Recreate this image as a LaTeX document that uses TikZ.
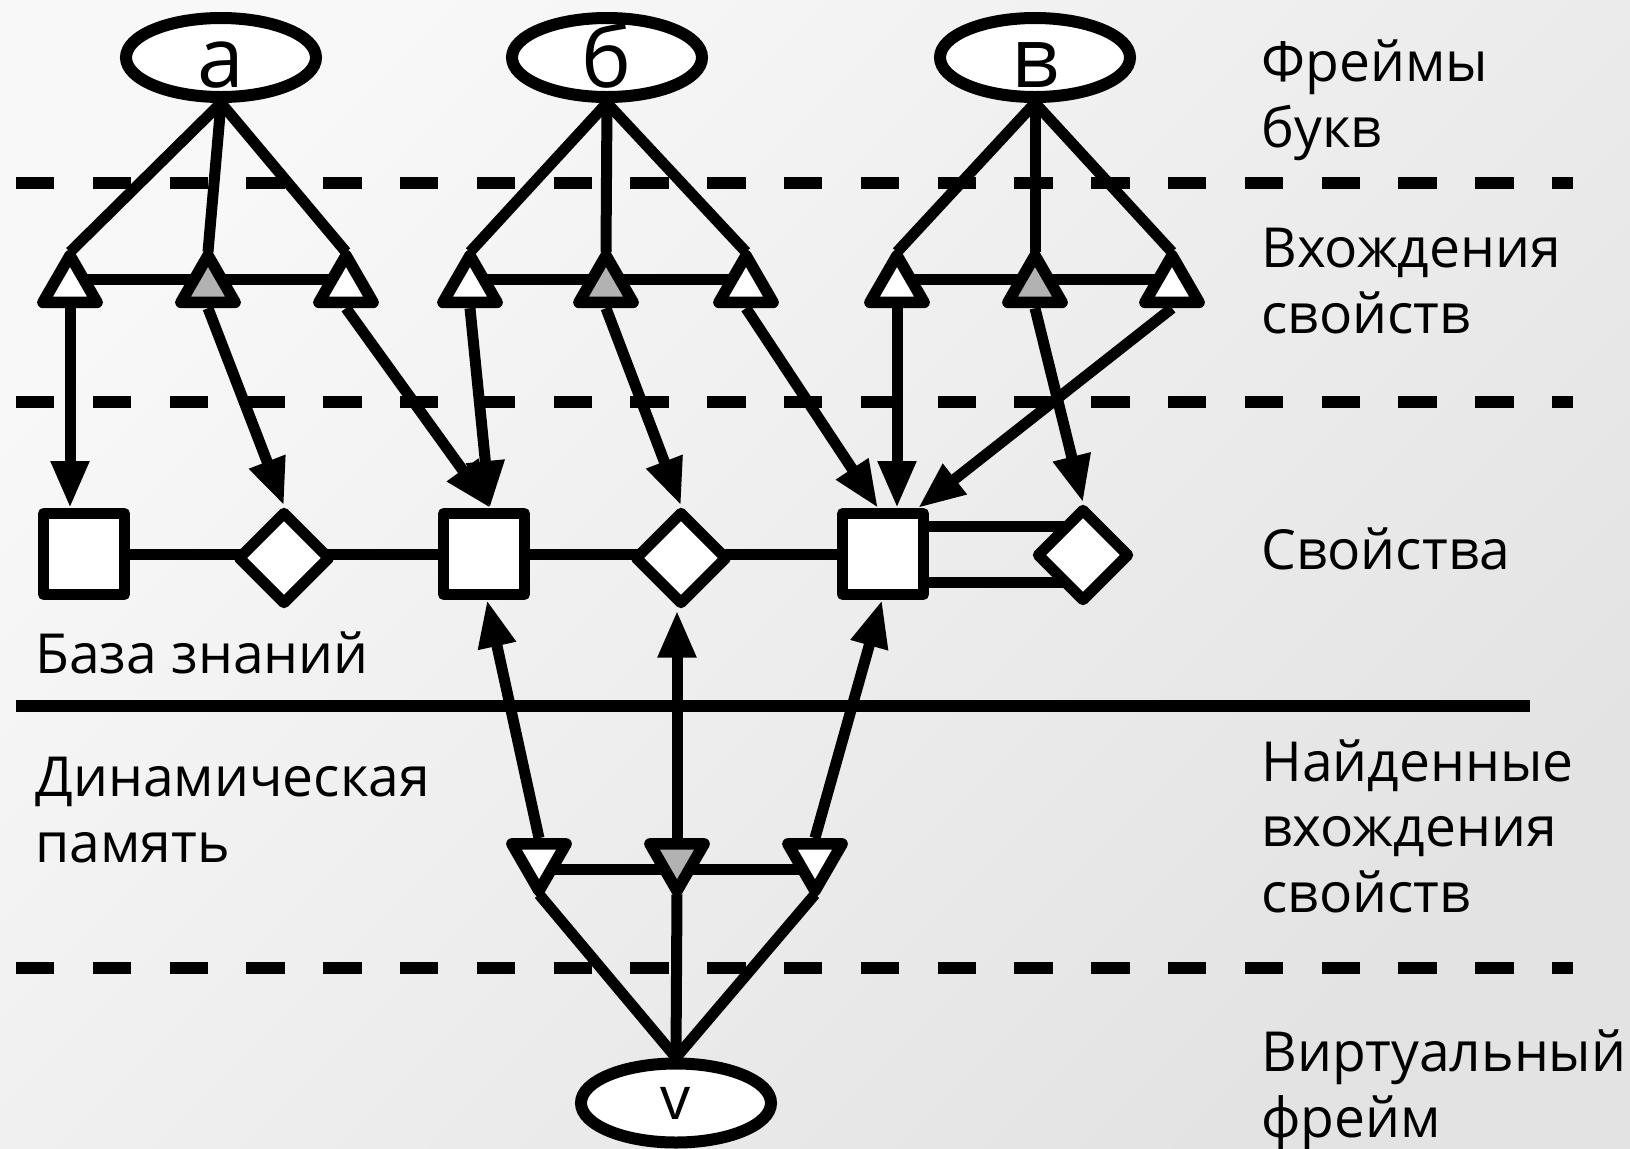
\documentclass[tikz,border=0pt]{standalone}
\usepackage{fontspec}
\setmainfont{Open Sans}
\usetikzlibrary{shapes.geometric,arrows.meta}
\definecolor{midgray}{RGB}{178,178,178}
\definecolor{bgA}{RGB}{248,248,248}
\definecolor{bgB}{RGB}{227,227,227}
\pgfdeclarelayer{bgl}
\pgfdeclarelayer{edges}
\pgfsetlayers{bgl,edges,main}
\newcommand{\lowletter}[1]{\raisebox{-15pt}[0pt][0pt]{#1}}
\tikzset{
  frame/.style={ellipse, draw, fill=white, line width=6pt, minimum width=95pt,
    minimum height=39.5pt, inner sep=0pt,
    font=\fontsize{42pt}{50pt}\selectfont},
  vframe/.style={ellipse, draw, fill=white, line width=6pt, minimum width=95pt,
    minimum height=39.5pt, inner sep=0pt, font=\fontsize{30pt}{36pt}\selectfont},
  occ/.style={regular polygon, regular polygon sides=3, draw, fill=white,
    line width=5.75pt, line join=round, minimum size=31.3pt, inner sep=0pt},
  occg/.style={occ, fill=midgray},
  prop/.style={rectangle, draw, fill=white, line width=5.5pt, line join=round,
    minimum size=40.5pt, inner sep=0pt},
  propd/.style={diamond, draw, fill=white, line width=5.5pt, line join=round,
    minimum width=47pt, minimum height=47pt, inner sep=0pt},
  conn/.style={line width=5.5pt, line join=round},
  arr/.style={conn, -{Triangle[length=23.5pt,width=18pt]}},
  sep/.style={line width=5.75pt, dash pattern=on 19.2pt off 19.2pt},
  lbl/.style={anchor=base west, inner sep=0pt, align=left,
    font=\fontsize{27.6pt}{32.75pt}\selectfont}
}
\begin{document}
\begin{tikzpicture}[x=0.5pt,y=-0.5pt]
\begin{pgfonlayer}{bgl}
  \shade[top color=bgA, bottom color=bgB, shading angle=45] (0,0) rectangle (1630,1148);
\end{pgfonlayer}
\useasboundingbox (0,0) rectangle (1630,1148);

% separators
\draw[sep] (16,183) -- (1573,183);
\draw[sep] (16,402) -- (1573,402);
\draw[sep] (16,968) -- (1573,968);
\draw[line width=6pt] (16,706) -- (1530,706);

% letter frames
\node[frame] (ea) at (221,57.5) {\lowletter{а}};
\node[frame] (eb) at (607,57.5) {\lowletter{б}};
\node[frame] (ec) at (1035,57.5) {\lowletter{в}};

% property occurrences
\node[occ]  (ta1) at (70,286.8) {};
\node[occg] (ta2) at (208,286.8) {};
\node[occ]  (ta3) at (346,286.8) {};
\node[occ]  (tb1) at (470,286.8) {};
\node[occg] (tb2) at (606,286.8) {};
\node[occ]  (tb3) at (746,286.8) {};
\node[occ]  (tc1) at (897,286.8) {};
\node[occg] (tc2) at (1035,286.8) {};
\node[occ]  (tc3) at (1172,286.8) {};

% properties
\node[prop]  (sq1) at (84,554) {};
\node[propd] (dm1) at (284,558) {};
\node[prop]  (sq2) at (484,554) {};
\node[propd] (dm2) at (681,558) {};
\node[prop]  (sq3) at (883,554) {};
\node[propd] (dm3) at (1083,555) {};

% found occurrences
\node[occ,  shape border rotate=180] (bt1) at (539,859.5) {};
\node[occg, shape border rotate=180] (bt2) at (677,859.5) {};
\node[occ,  shape border rotate=180] (bt3) at (815,859.5) {};

% virtual frame
\node[vframe] (ev) at (676,1103) {v};

\begin{pgfonlayer}{edges}
  % frames to occurrences
  \foreach \e/\g in {ea/ta, eb/tb, ec/tc} {
    \draw[conn] (\e.south) -- ([yshift=-4pt]\g1.corner 1);
    \draw[conn] (\e.south) -- ([yshift=-4pt]\g2.corner 1);
    \draw[conn] (\e.south) -- ([yshift=-4pt]\g3.corner 1);
    \draw[conn] ([yshift=3.9pt]\g1.center) -- ([yshift=3.9pt]\g3.center);
  }
  % occurrences to properties
  \draw[arr] (ta1.side 2) -- (ta1.side 2 |- sq1.north);
  \draw[arr] (ta2.side 2) -- (dm1.north);
  \draw[arr] (ta3.side 2) -- ([xshift=3pt]sq2.north);
  \draw[arr] (tb1.side 2) -- ([xshift=3pt]sq2.north);
  \draw[arr] (tb2.side 2) -- (dm2.north);
  \draw[arr] (tb3.side 2) -- ([xshift=-2.5pt]sq3.north);
  \draw[arr] (tc1.side 2) -- (tc1.side 2 |- sq3.north);
  \draw[arr] (tc2.side 2) -- (dm3.north);
  \draw[arr] (tc3.side 2) -- ([xshift=17.5pt]sq3.north);
  % property links
  \draw[conn] (sq1.center) -- (sq3.center);
  \draw[conn] ([yshift=13.75pt]sq3.center) -- ([yshift=13.75pt]sq3.center -| dm3.center);
  \draw[conn] ([yshift=-14pt]sq3.center) -- ([yshift=-14pt]sq3.center -| dm3.center);
  % found occurrences to properties
  \draw[arr] (bt1.side 2) -- ([xshift=1.5pt]sq2.south);
  \draw[arr] (bt2.side 2) -- (bt2.side 2 |- dm2.south);
  \draw[arr] (bt3.side 2) -- ([xshift=-0.5pt]sq3.south);
  \draw[conn] ([yshift=-5pt]bt1.center) -- ([yshift=-5pt]bt3.center);
  % found occurrences to virtual frame
  \draw[conn] ([yshift=4pt]bt1.corner 1) -- (ev.north);
  \draw[conn] ([yshift=4pt]bt2.corner 1) -- (ev.north);
  \draw[conn] ([yshift=4pt]bt3.corner 1) -- (ev.north);
\end{pgfonlayer}

% labels (anchored at the baseline of their last line)
\node[lbl] (l1) at (1261,147) {Фреймы\\букв};
\node[lbl] (l2) at (1261,333) {Вхождения\\свойств};
\node[lbl] (l3) at (1261,569) {Свойства};
\node[lbl] (l4) at (1261,912) {Найденные\\вхождения\\свойств};
\node[lbl] (l5) at (1261,1137) {Виртуальный\\фрейм};
\node[lbl] (l6) at (35,673) {База знаний};
\node[lbl] (l7) at (35,862) {Динамическая\\память};
\end{tikzpicture}
\end{document}
